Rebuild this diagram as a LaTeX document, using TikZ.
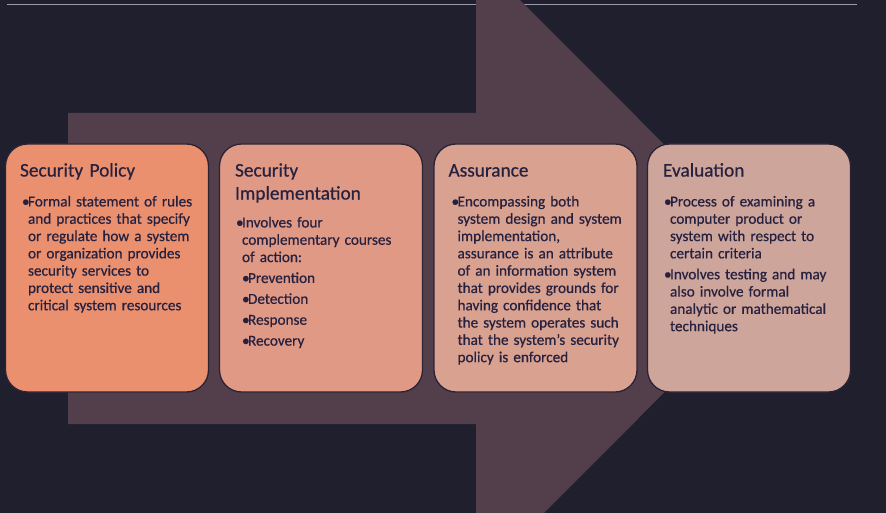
\documentclass[tikz,border=0pt]{standalone}
\usepackage{fontspec}
\setmainfont{Carlito}[BoldFont={Carlito}, BoldFeatures={FakeBold=0.6}]
\definecolor{bgnavy}{HTML}{1F1F2E}
\definecolor{arrowfill}{HTML}{533F4C}
\definecolor{ruleline}{HTML}{9A9AAA}
\definecolor{inkcol}{HTML}{272140}
\definecolor{edgecol}{HTML}{2B2233}
\definecolor{stageA}{HTML}{EA906F}
\definecolor{stageB}{HTML}{DF9985}
\definecolor{stageC}{HTML}{D8A190}
\definecolor{stageD}{HTML}{CEA59B}

% struts fixing the first baseline of each text block
\newcommand\titlestrut{\rule{0pt}{16pt}}
\newcommand\bodystrut{\rule{0pt}{13pt}}
% bullet paragraphs with hanging continuation lines
\newcommand\bitem[1]{\par\hangindent=6pt\hangafter=1\noindent\bodystrut\makebox[6pt][l]{\textbullet}#1}
\newcommand\bsubitem[1]{\par\noindent\bodystrut\hspace*{6pt}\makebox[6pt][l]{\textbullet}#1}

\tikzset{
  stagebox/.style={draw=edgecol, line width=1.3pt, rounded corners=22pt,
    minimum width=203pt, minimum height=248pt, inner sep=0pt},
  stagetitle/.style={anchor=north west, inner sep=0pt, text=inkcol,
    text width=190pt, align=left,
    font=\fontsize{19.3}{23}\selectfont\bfseries},
  stagebody/.style={anchor=north west, inner sep=0pt, text=inkcol,
    text width=190pt,
    font=\fontsize{15.2}{17.3}\selectfont\bfseries\raggedright\setlength\parskip{3.6pt}},
}

\begin{document}
\begin{tikzpicture}[x=1pt,y=-1pt]
\useasboundingbox (0,0) rectangle (886,513);
\clip (0,0) rectangle (886,513);
\fill[bgnavy] (0,0) rectangle (886,513);

% thin rule along the top
\draw[ruleline, line width=1.2pt] (7,4.5) -- (857,4.5);

% large background arrow
\fill[arrowfill] (68,113) -- (476,113) -- (476,-44) -- (788,268.5)
  -- (476,581) -- (476,424) -- (68,424) -- cycle;

% stage boxes
\node[stagebox, fill=stageA] (policy) at (107,268) {};
\node[stagebox, fill=stageB] (impl)   at (321,268) {};
\node[stagebox, fill=stageC] (assur)  at (535.5,268) {};
\node[stagebox, fill=stageD] (evalb)  at (749,268) {};

% Security Policy
\node[stagetitle] (policyT) at ([xshift=15pt,yshift=-17pt]policy.north west)
  {\titlestrut Security Policy};
\node[stagebody] (policyB) at ([xshift=17pt,yshift=-42pt]policy.north west) {%
  \bitem{Formal statement of rules\newline and practices that specify\newline or regulate how a system\newline or organization provides\newline security services to\newline protect sensitive and\newline critical system resources}\par};

% Security Implementation
\node[stagetitle] (implT) at ([xshift=16pt,yshift=-17pt]impl.north west)
  {\titlestrut Security\\ Implementation};
\node[stagebody] (implB) at ([xshift=17pt,yshift=-63pt]impl.north west) {%
  \bitem{Involves four\newline complementary courses\newline of action:}
  \bsubitem{Prevention}
  \bsubitem{Detection}
  \bsubitem{Response}
  \bsubitem{Recovery}\par};

% Assurance
\node[stagetitle] (assurT) at ([xshift=15pt,yshift=-17pt]assur.north west)
  {\titlestrut Assurance};
\node[stagebody] (assurB) at ([xshift=18pt,yshift=-42pt]assur.north west) {%
  \bitem{Encompassing both\newline system design and system\newline implementation,\newline assurance is an attribute\newline of an information system\newline that provides grounds for\newline having confidence that\newline the system operates such\newline that the system’s security\newline policy is enforced}\par};

% Evaluation
\node[stagetitle] (evalT) at ([xshift=16pt,yshift=-17pt]evalb.north west)
  {\titlestrut Evaluation};
\node[stagebody] (evalB) at ([xshift=17pt,yshift=-42pt]evalb.north west) {%
  \bitem{Process of examining a\newline computer product or\newline system with respect to\newline certain criteria}
  \bitem{Involves testing and may\newline also involve formal\newline analytic or mathematical\newline techniques}\par};
\end{tikzpicture}
\end{document}
